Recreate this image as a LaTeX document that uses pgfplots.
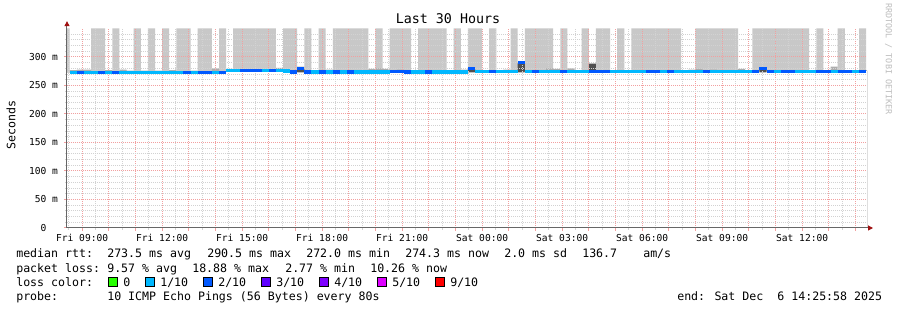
\documentclass[border=0pt]{standalone}
\usepackage{fontspec}
\setmainfont{DejaVu Sans Mono}
\usepackage{pgfplots}
\pgfplotsset{compat=1.18}
\usepackage{pgfplotstable}
\usetikzlibrary{arrows.meta}

\definecolor{c0}{HTML}{26FF00}
\definecolor{c1}{HTML}{00B8FF}
\definecolor{c2}{HTML}{0059FF}
\definecolor{c3}{HTML}{5E00FF}
\definecolor{c4}{HTML}{7E00FF}
\definecolor{c5}{HTML}{DD00FF}
\definecolor{c9}{HTML}{FF0000}
\definecolor{smoke}{HTML}{C8C8C8}
\definecolor{smokemid}{HTML}{ADADAD}
\definecolor{smokedark}{HTML}{505050}
\definecolor{mgrid}{HTML}{F2A0A0}
\definecolor{ngrid}{HTML}{D2D2D2}
\definecolor{arrowred}{HTML}{A01010}
\definecolor{wmark}{HTML}{BDBDBD}

\newcommand\legfont{\fontsize{8.7pt}{10pt}\selectfont}
\newcommand\tickfont{\fontsize{7.2pt}{8.5pt}\selectfont}
\newcommand\titfont{\fontsize{10pt}{12pt}\selectfont}
\newcommand\wmfont{\fontsize{6.3pt}{7.5pt}\selectfont}

% m = bin start (minutes since Fri 00:00), med = median rtt (ms), loss = lost pings of 10
% lo = bottom of smoke, hi = light smoke top (350 = off the top), md = medium smoke top, dk = dark smoke top
\pgfplotstableread{
m med loss lo hi md dk
496 273 2 273 350 273 273
512 273 1 273 273 277 273
528 273 2 273 273 278 273
544 273 1 273 273 278 273
560 273 1 273 350 273 273
576 273 2 273 350 273 273
592 273 1 273 273 277 273
608 273 2 273 350 273 273
624 273 1 273 273 278 273
640 273 1 273 273 276 273
656 273 1 273 350 273 273
672 273 1 273 273 276 273
688 273 1 273 350 273 273
704 273 1 273 273 276 273
720 273 1 273 350 273 273
736 273 1 273 273 277 273
752 273 1 273 350 273 273
768 273 2 273 350 273 273
784 273 1 273 273 276 273
800 273 2 273 350 273 273
816 273 2 273 350 273 273
832 273 1 273 273 280 273
848 273 2 273 350 273 273
864 276 1 276 276 279 276
880 276 1 276 350 276 276
896 276 2 276 350 276 276
912 276 2 276 350 276 276
928 276 2 276 350 276 276
944 276 1 276 350 276 276
960 276 2 276 350 276 276
976 276 1 276 276 281 276
992 275.5 1 275 350 275 275
1008 274 2 274 350 274 274
1024 280 2 273 273 283 279
1040 274 2 274 350 274 274
1056 274 1 274 274 277 274
1072 274 2 274 350 274 274
1088 274 1 274 274 278 274
1104 274 2 274 350 274 274
1120 274 1 274 350 277 274
1136 274 2 274 350 274 274
1152 274 1 274 350 274 274
1168 274 1 274 350 274 274
1184 274 1 274 274 279 274
1200 274 1 274 350 280 274
1216 274 1 274 274 279 274
1232 274.5 2 274 350 274 274
1248 274.5 2 274 350 278 274
1264 274 2 274 350 274 274
1280 274 1 274 274 277 274
1296 274 1 274 350 274 274
1312 274 2 274 350 274 274
1328 274 1 274 350 274 274
1344 274 1 274 350 274 274
1360 274 1 274 274 277 274
1376 274 1 274 350 274 274
1392 274 1 274 274 278 274
1408 280 2 273 350 273 279
1424 275 1 275 350 275 275
1440 275 1 275 275 277 275
1456 275 2 275 350 275 275
1472 275 1 275 275 277 275
1488 275 1 275 275 278 275
1504 275 1 275 350 275 275
1520 290.5 2 273 273 291 289
1536 275 1 275 350 275 275
1552 275 2 275 350 275 275
1568 275 1 275 350 275 275
1584 275 1 275 350 280 275
1600 275 1 275 275 279 275
1616 275 2 275 350 275 275
1632 275 1 275 275 280 275
1648 275 1 275 275 277 275
1664 275 1 275 350 275 275
1680 275 2 273 273 289 288
1696 275 2 275 350 275 275
1712 275 2 275 350 275 275
1728 275 1 275 275 277 275
1744 275 1 275 350 275 275
1760 275 1 275 275 277 275
1776 275 1 275 350 275 275
1792 275 1 275 350 277 275
1808 275 2 275 350 275 275
1824 275 2 275 350 275 275
1840 275 1 275 350 275 275
1856 275 2 275 350 275 275
1872 275 1 275 350 275 275
1888 275 1 275 275 277 275
1904 275 1 275 275 278 275
1920 275 1 275 350 279 275
1936 275 2 275 350 275 275
1952 275 1 275 350 278 275
1968 275 1 275 350 275 275
1984 275 1 275 350 275 275
2000 275 1 275 350 275 275
2016 275 1 275 275 279 275
2032 275 1 275 275 277 275
2048 275 2 275 350 275 275
2064 280 2 273 350 273 278
2080 275 2 275 350 275 275
2096 275 1 275 350 275 275
2112 275 2 275 350 277 275
2128 275 2 275 350 275 275
2144 275 1 275 350 275 275
2160 275 1 275 350 275 275
2176 275 1 275 275 277 275
2192 275 2 275 350 275 275
2208 275 2 275 275 277 275
2224 275 1 275 275 283 275
2240 275 2 275 350 275 275
2256 275 2 275 275 277 275
2272 275 1 275 275 277 275
2288 275 2 275 350 275 275
2304 275 2 275 275 277 275
2320 275 2 275 275 277 275
}\data

\pgfplotsset{frame/.style={
  at={(50.25pt,61.5pt)}, anchor=south west,
  scale only axis, width=600pt, height=149.625pt,
  xmin=505.9667, xmax=2305.9667, ymin=0, ymax=350,
  enlargelimits=false}}

\begin{document}
\begin{tikzpicture}
\path[fill=white,use as bounding box] (0,0) rectangle (672.75pt,232.5pt);
% smoke, with the grid drawn over it
\begin{axis}[frame,
  axis on top,
  axis lines=left,
  x axis line style={draw=black!60, line width=0.75pt, -{Triangle[length=3.75pt,width=3.75pt,color=arrowred]}, shorten >=-4.5pt},
  y axis line style={draw=black!60, line width=0.75pt, -{Triangle[length=3.75pt,width=3.75pt,color=arrowred]}, shorten >=-5.5pt},
  xtick={540,600,...,2280},
  xticklabels={Fri 09:00,,,Fri 12:00,,,Fri 15:00,,,Fri 18:00,,,Fri 21:00,,,Sat 00:00,,,Sat 03:00,,,Sat 06:00,,,Sat 09:00,,,Sat 12:00,,},
  minor xtick={510,570,...,2250},
  ytick={0,50,...,300},
  yticklabels={0\hphantom{mm},50 m,100 m,150 m,200 m,250 m,300 m},
  minor ytick={10,20,...,340},
  grid=both,
  major grid style={mgrid, dash pattern=on 0.75pt off 0.75pt, line width=0.75pt},
  minor grid style={ngrid, dash pattern=on 0.75pt off 0.75pt, line width=0.75pt},
  tick align=outside, major tick length=2.25pt, minor tick length=1.5pt,
  major tick style={mgrid, line width=0.75pt},
  minor tick style={ngrid, line width=0.75pt},
  xticklabel style={font=\tickfont, anchor=base, inner sep=0pt, yshift=-7.9pt},
  yticklabel style={font=\tickfont, anchor=east, inner sep=0pt, xshift=-4.3pt},
]
\addplot[fill=smoke, draw=none, const plot mark left] table[x=m,y=hi]{\data} \closedcycle;
\addplot[fill=smokemid, draw=none, const plot mark left] table[x=m,y=md]{\data} \closedcycle;
\addplot[fill=smokedark, draw=none, const plot mark left] table[x=m,y=dk]{\data} \closedcycle;
\addplot[fill=white, draw=none, const plot mark left] table[x=m,y=lo]{\data} \closedcycle;
\end{axis}
% median rtt, coloured by loss, over the grid
\begin{axis}[frame, hide axis]
\addplot[scatter, only marks, mark=-, mark size=2.6667pt,
  mark options={line width=2.6pt},
  restrict x to domain=505.97:2305.97,
  point meta=explicit symbolic,
  scatter/classes={
    1={mark=-, draw=c1, line width=2.6pt},
    2={mark=-, draw=c2, line width=2.6pt}}]
  table[x expr=\thisrow{m}+8, y=med, meta=loss]{\data};
\end{axis}

\begin{scope}[x=0.75pt,y=-0.75pt,yshift=232.5pt]
% title, y label, watermark
\node[anchor=base, inner sep=0pt, font=\titfont] at (448,24) {Last 30 Hours};
\node[rotate=90, inner sep=0pt, font=\legfont] at (11,125) {Seconds};
\node[rotate=-90, inner sep=0pt, font=\wmfont, text=wmark] at (888.5,59) {RRDTOOL / TOBI OETIKER};

% legend
\begin{scope}[every node/.style={anchor=base west, inner sep=0pt, font=\legfont}]
\node at (16,258) {median rtt:};
\node at (107,258) {273.5 ms avg};
\node at (207,258) {290.5 ms max};
\node at (306,258) {272.0 ms min};
\node at (405,258) {274.3 ms now};
\node at (504,258) {2.0 ms sd};
\node at (582,258) {136.7};
\node at (643,258) {am/s};

\node at (16,272.3) {packet loss:};
\node at (107,272.3) {9.57 \% avg};
\node at (192,272.3) {18.88 \% max};
\node at (285,272.3) {2.77 \% min};
\node at (370,272.3) {10.26 \% now};

\node at (16,286.7) {loss color:};
\node at (123,286.7) {0};
\node at (160,286.7) {1/10};
\node at (218,286.7) {2/10};
\node at (276,286.7) {3/10};
\node at (334,286.7) {4/10};
\node at (392,286.7) {5/10};
\node at (450,286.7) {9/10};

\node at (16,301) {probe:};
\node at (107,301) {10 ICMP Echo Pings (56 Bytes) every 80s};
\node at (677,301) {end: Sat Dec\ \ 6 14:25:58 2025};
\end{scope}
\begin{scope}[line width=0.75pt, draw=black]
\filldraw[fill=c0] (108,278) rectangle (117,287);
\filldraw[fill=c1] (145,278) rectangle (154,287);
\filldraw[fill=c2] (203,278) rectangle (212,287);
\filldraw[fill=c3] (261,278) rectangle (270,287);
\filldraw[fill=c4] (319,278) rectangle (328,287);
\filldraw[fill=c5] (377,278) rectangle (386,287);
\filldraw[fill=c9] (435,278) rectangle (444,287);
\end{scope}
\end{scope}
\end{tikzpicture}
\end{document}
